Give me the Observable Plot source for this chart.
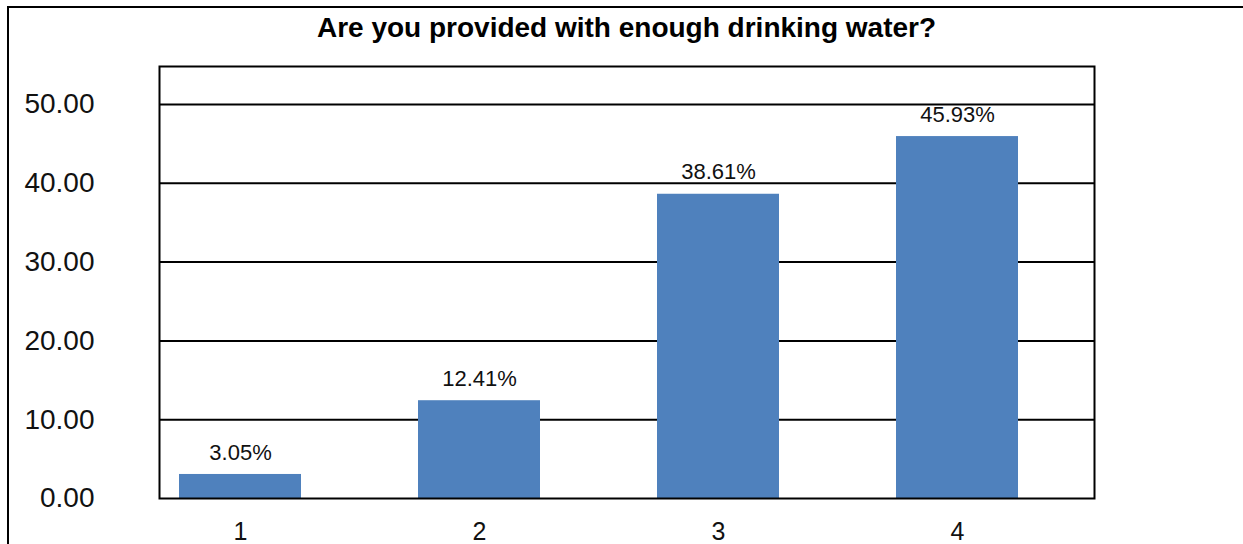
<!DOCTYPE html>
<html>
<head>
<meta charset="utf-8">
<script src="https://cdn.jsdelivr.net/npm/d3@7"></script>
<script src="https://cdn.jsdelivr.net/npm/@observablehq/plot@0.6"></script>
<style>
  html, body { margin: 0; padding: 0; background: #fff; }
  #wrap { position: relative; width: 1243px; height: 544px; overflow: hidden; font-family: 'Liberation Sans', Arial, sans-serif; }
  #border { position: absolute; left: 7px; top: 6px; width: 1400px; height: 700px; border-left: 2px solid #000; border-top: 2px solid #000; z-index: 2; pointer-events: none; }
  #title { box-sizing: border-box; width: 1243px; height: 52px; padding-left: 10px; text-align: center; font: bold 28px/56px 'Liberation Sans', Arial, sans-serif; color: #000; }
  #chart svg { display: block; }
</style>
</head>
<body>
<div id="wrap">
  <div id="border"></div>
  <div id="title"></div>
  <div id="chart"></div>
</div>
<script>
const titleText = "Are you provided with enough drinking water?";
const categories = [1, 2, 3, 4];
const values = [3.05, 12.41, 38.61, 45.93];
const yTicks = [0, 10, 20, 30, 40, 50];
const gridValues = [10, 20, 30, 40, 50];

document.getElementById("title").textContent = titleText;

const data = categories.map((c, i) => ({c, v: values[i]}));

const chart = Plot.plot({
  width: 1243,
  height: 492,
  marginLeft: 159,
  marginRight: 149,
  marginTop: 14,
  marginBottom: 46,
  style: {fontFamily: "'Liberation Sans', Arial, sans-serif", background: "transparent", color: "#000", overflow: "visible"},
  x: {type: "band", domain: categories, range: [178, 1019], paddingInner: 0.49, paddingOuter: 0, align: 0.5, label: null},
  y: {domain: [0, 50], range: [446, 52], label: null},
  marks: [
    Plot.ruleY(gridValues, {stroke: "#000", strokeWidth: 2}),
    Plot.barY(data, {x: "c", y: "v", fill: "#4F81BD"}),
    Plot.frame({stroke: "#000", strokeWidth: 2}),
    Plot.text(data, {x: "c", y: "v", text: d => d.v.toFixed(2) + "%", dy: -22, fontSize: 22, fill: "#111"}),
    Plot.axisY(yTicks, {tickSize: 0, tickPadding: 65, tickFormat: d => d.toFixed(2), fontSize: 28, fill: "#111", label: null}),
    Plot.axisX({tickSize: 0, tickPadding: 24, fontSize: 25, fill: "#111", label: null})
  ]
});
document.getElementById("chart").appendChild(chart);
</script>
</body>
</html>
